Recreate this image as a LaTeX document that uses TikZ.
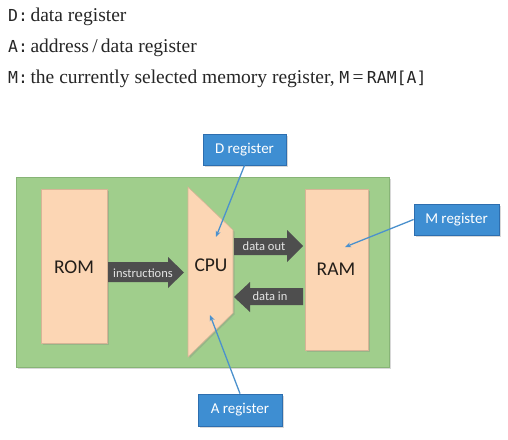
\documentclass[tikz,border=0pt]{standalone}
\usepackage{fontspec}
\setmainfont{Liberation Serif}
\newfontfamily\calib{Carlito}
\newfontfamily\consol{DejaVu Sans Mono}
\usetikzlibrary{shadows,arrows.meta}
\definecolor{bggreen}{RGB}{160,206,140}
\definecolor{greenedge}{RGB}{135,180,118}
\definecolor{peach}{RGB}{252,214,180}
\definecolor{peachedge}{RGB}{215,180,150}
\definecolor{arrowgray}{RGB}{78,78,78}
\definecolor{regblue}{RGB}{62,142,210}
\definecolor{regedge}{RGB}{45,110,175}
\definecolor{lineblue}{RGB}{75,145,205}
\definecolor{darktext}{RGB}{35,30,25}
\newcommand{\mono}[1]{{\consol\fontsize{16.5}{18}\selectfont #1}}
\tikzset{
  shad/.style={drop shadow={opacity=0.3, shadow xshift=1.5pt, shadow yshift=-1.5pt}},
  legend/.style={anchor=base west, inner sep=0pt, font=\fontsize{19.5}{21}\selectfont, text=black!85},
  unitbox/.style={fill=peach, draw=peachedge, line width=0.6pt, shad},
  unitlabel/.style={font=\calib\fontsize{19.5}{21}\selectfont, text=darktext},
  fat/.style={fill=arrowgray},
  fatlabel/.style={font=\calib\fontsize{12.5}{14}\selectfont, text=black!10, inner sep=0pt},
  regbox/.style={fill=regblue, draw=regedge, line width=0.8pt, text=white, font=\calib\fontsize{15}{17}\selectfont, inner sep=0pt, shad},
  pointer/.style={draw=lineblue, line width=1.3pt, -{Stealth[length=6pt,width=5pt]}},
}
\begin{document}
\begin{tikzpicture}[x=1pt,y=-1pt]
\useasboundingbox (0,0) rectangle (508,439);
\fill[white] (0,0) rectangle (508,439);
% legend
\node[legend] (l1) at (8,21) {\mono{D:}\hspace{2.5pt}data register};
\node[legend] (l2) at (8,52) {\mono{A:}\hspace{2.5pt}address\,/\,data register};
\node[legend] (l3) at (8,83) {\mono{M:}\hspace{2.5pt}the currently selected memory register, \mono{M}\,=\,\mono{RAM[A]}};
% green background
\fill[bggreen, draw=greenedge, line width=0.6pt, shad] (16,177) rectangle (389,367);
% units
\filldraw[unitbox] (41,189) rectangle (107,343);
\node[unitlabel] (rom) at (74,267) {ROM};
\filldraw[unitbox] (188,187) -- (233,230) -- (233,313) -- (188,357) -- cycle;
\node[unitlabel] (cpu) at (211,265) {CPU};
\filldraw[unitbox] (305,189) rectangle (368,350);
\node[unitlabel] (ram) at (336,269) {RAM};
% fat arrows
\fill[fat] (108,262) -- (168,262) -- (168,257) -- (184,272.5) -- (168,288) -- (168,282) -- (108,282) -- cycle;
\node[fatlabel] (instr) at (143,273) {instructions};
\fill[fat] (234,238) -- (287,238) -- (287,230) -- (303,246) -- (287,262) -- (287,255) -- (234,255) -- cycle;
\node[fatlabel] (dout) at (264,246) {data out};
\fill[fat] (303,288) -- (250,288) -- (250,282) -- (234,297) -- (250,312) -- (250,305) -- (303,305) -- cycle;
\node[fatlabel] (din) at (270,296) {data in};
% register callouts
\node[regbox, minimum width=83pt, minimum height=31pt] (dreg) at (244.5,149.5) {D register};
\node[regbox, minimum width=85pt, minimum height=31pt] (mreg) at (456.5,219.5) {M register};
\node[regbox, minimum width=84pt, minimum height=32pt] (areg) at (240,410) {A register};
\coordinate (dtip) at (216,237);
\coordinate (mtip) at (345,247);
\coordinate (atip) at (210,315);
\draw[pointer] (dreg.south) -- (dtip);
\draw[pointer] (mreg.west) -- (mtip);
\draw[pointer] (areg.north) -- (atip);
\end{tikzpicture}
\end{document}
